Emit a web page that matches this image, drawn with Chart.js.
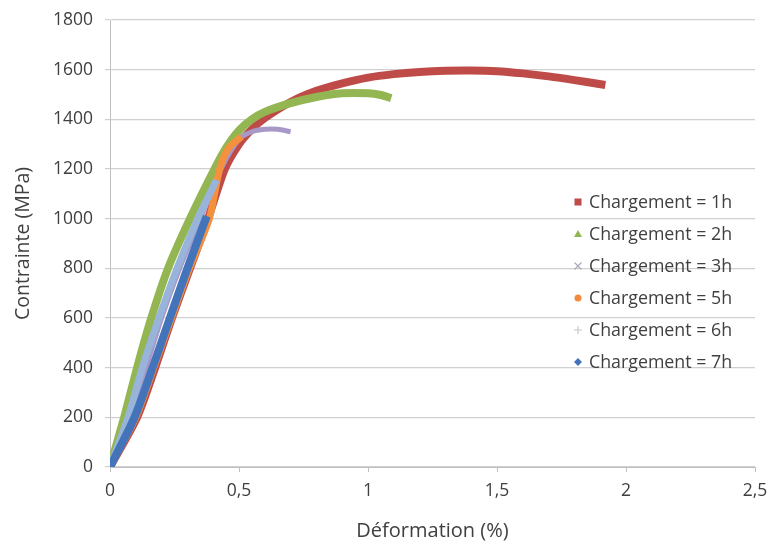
<!DOCTYPE html>
<html>
<head>
<meta charset="utf-8">
<script src="https://cdn.jsdelivr.net/npm/chart.js@4.4.1/dist/chart.umd.min.js"></script>
<style>
    html, body { margin: 0; padding: 0; background: #fff; }
    #wrap { width: 768px; height: 542px; }
</style>
</head>
<body>
<div id="wrap"><canvas id="stress-strain-chart"></canvas></div>
<script>
// Courbes contrainte-déformation, valeurs
const seriesNames = ['Chargement = 1h', 'Chargement = 2h', 'Chargement = 3h', 'Chargement = 5h', 'Chargement = 6h', 'Chargement = 7h'];

const strain1h = [0, 0.105, 0.175, 0.24, 0.31, 0.38, 0.445, 0.5, 0.55, 0.6, 0.7, 0.8, 0.9, 1.0, 1.1, 1.2, 1.3, 1.4, 1.5, 1.6, 1.7, 1.8, 1.92];
const stress1h = [0, 200, 400, 600, 800, 1000, 1200, 1300, 1360, 1405, 1470, 1515, 1545, 1568, 1582, 1591, 1596, 1597, 1594, 1585, 1573, 1558, 1538];

const strain2h = [0, 0.055, 0.105, 0.16, 0.225, 0.31, 0.405, 0.45, 0.5, 0.55, 0.6, 0.7, 0.8, 0.9, 1.0, 1.05, 1.09];
const stress2h = [0, 200, 400, 600, 800, 1000, 1200, 1285, 1355, 1400, 1430, 1465, 1490, 1505, 1505, 1498, 1485];

const strain3h = [0, 0.08, 0.14, 0.2, 0.27, 0.35, 0.43, 0.5, 0.55, 0.6, 0.65, 0.7];
const stress3h = [0, 200, 400, 600, 800, 1000, 1200, 1320, 1350, 1360, 1360, 1350];

const strain5h = [0, 0.1, 0.17, 0.238, 0.308, 0.385, 0.425, 0.46, 0.51];
const stress5h = [0, 200, 400, 600, 800, 1000, 1200, 1285, 1330];

const strain6h = [0, 0.07, 0.125, 0.19, 0.26, 0.34, 0.413];
const stress6h = [0, 200, 400, 600, 800, 1000, 1156];

const strain7h = [0, 0.095, 0.165, 0.232, 0.3, 0.375];
const stress7h = [0, 200, 400, 600, 800, 1010];

const xTicks = [0, 0.5, 1, 1.5, 2, 2.5];
const yTicks = [0, 200, 400, 600, 800, 1000, 1200, 1400, 1600, 1800];

const colors = ['#be4b48', '#94b652', '#a898c8', '#f4913f', '#98b4da', '#4374b9'];
const markers = ['rect', 'triangle', 'cross', 'circle', 'plus', 'diamond'];
const markerColors = ['#be4b48', '#94b652', '#a8a8b8', '#f08a3c', '#c8c8d0', '#4374b9'];
const widths = [8, 8, 5, 7, 7, 8];

function toPoints(xs, ys) {
    return xs.map((x, i) => ({ x: x, y: ys[i] }));
}

const allSeries = [
    toPoints(strain1h, stress1h),
    toPoints(strain2h, stress2h),
    toPoints(strain3h, stress3h),
    toPoints(strain5h, stress5h),
    toPoints(strain6h, stress6h),
    toPoints(strain7h, stress7h)
];

const fontFamily = '"Open Sans", "Noto Sans", sans-serif';

// Legend drawn inside the plot area
const innerLegend = {
    id: 'innerLegend',
    afterDraw: function(chart) {
        const ctx = chart.ctx;
        ctx.save();
        ctx.font = '17.8px ' + fontFamily;
        ctx.textBaseline = 'middle';
        seriesNames.forEach((name, i) => {
            const y = 202 + i * 32;
            drawMarker(ctx, markers[i], 578, y, markerColors[i]);
            ctx.fillStyle = '#404040';
            ctx.fillText(name, 589, y + 1);
        });
        ctx.restore();
    }
};

function drawMarker(ctx, style, x, y, color) {
    ctx.fillStyle = color;
    ctx.strokeStyle = color;
    ctx.lineWidth = 1.2;
    ctx.beginPath();
    if (style === 'rect') {
        ctx.fillRect(x - 3.5, y - 3.5, 7, 7);
    } else if (style === 'triangle') {
        ctx.moveTo(x, y - 4);
        ctx.lineTo(x + 4, y + 3);
        ctx.lineTo(x - 4, y + 3);
        ctx.closePath();
        ctx.fill();
    } else if (style === 'cross') {
        ctx.moveTo(x - 3.5, y - 3.5); ctx.lineTo(x + 3.5, y + 3.5);
        ctx.moveTo(x + 3.5, y - 3.5); ctx.lineTo(x - 3.5, y + 3.5);
        ctx.stroke();
    } else if (style === 'circle') {
        ctx.arc(x, y, 3.5, 0, Math.PI * 2);
        ctx.fill();
    } else if (style === 'plus') {
        ctx.moveTo(x - 4, y); ctx.lineTo(x + 4, y);
        ctx.moveTo(x, y - 4); ctx.lineTo(x, y + 4);
        ctx.stroke();
    } else if (style === 'diamond') {
        ctx.moveTo(x, y - 4); ctx.lineTo(x + 4, y);
        ctx.lineTo(x, y + 4); ctx.lineTo(x - 4, y);
        ctx.closePath();
        ctx.fill();
    }
}

const ctx = document.getElementById('stress-strain-chart');
new Chart(ctx, {
    type: 'scatter',
    data: {
        datasets: allSeries.map((pts, i) => ({
            label: seriesNames[i],
            data: pts,
            showLine: true,
            borderColor: colors[i],
            backgroundColor: colors[i],
            borderWidth: widths[i],
            pointRadius: 0,
            tension: 0.25,
            borderCapStyle: 'butt',
            order: 5 - i
        }))
    },
    options: {
        responsive: true,
        maintainAspectRatio: false,
        animation: false,
        layout: {
            padding: { top: 20, right: 13, left: 0, bottom: 0 }
        },
        plugins: {
            legend: { display: false },
            tooltip: { enabled: false }
        },
        scales: {
            x: {
                type: 'linear',
                min: 0,
                max: 2.5,
                afterBuildTicks: function(scale) {
                    scale.ticks = xTicks.map(v => ({ value: v }));
                },
                afterFit: function(scale) {
                    scale.height = 75;
                    scale.paddingLeft = 0;
                    scale.paddingRight = 0;
                },
                ticks: {
                    color: '#404040',
                    font: { size: 17.5, family: fontFamily },
                    padding: 9,
                    maxRotation: 0,
                    callback: v => String(v).replace('.', ',')
                },
                grid: {
                    drawOnChartArea: false,
                    color: '#bfbfbf',
                    tickLength: 5
                },
                border: { color: '#bfbfbf', width: 1 },
                title: {
                    display: true,
                    text: 'Déformation (%)',
                    color: '#404040',
                    font: { size: 20, family: fontFamily },
                    padding: { top: 4, bottom: -1 }
                }
            },
            y: {
                type: 'linear',
                min: 0,
                max: 1800,
                afterBuildTicks: function(scale) {
                    scale.ticks = yTicks.map(v => ({ value: v }));
                },
                afterFit: function(scale) {
                    scale.width = 110;
                    scale.paddingTop = 0;
                    scale.paddingBottom = 0;
                },
                ticks: {
                    color: '#404040',
                    font: { size: 17.5, family: fontFamily },
                    padding: 12,
                    callback: v => String(v)
                },
                grid: {
                    color: '#d0d0d0',
                    tickLength: 5,
                    lineWidth: 1.2
                },
                border: { color: '#bfbfbf', width: 1 },
                title: {
                    display: true,
                    text: 'Contrainte (MPa)',
                    color: '#404040',
                    font: { size: 19.5, family: fontFamily },
                    padding: { top: 12, bottom: 0 }
                }
            }
        }
    },
    plugins: [innerLegend]
});
</script>
</body>
</html>
